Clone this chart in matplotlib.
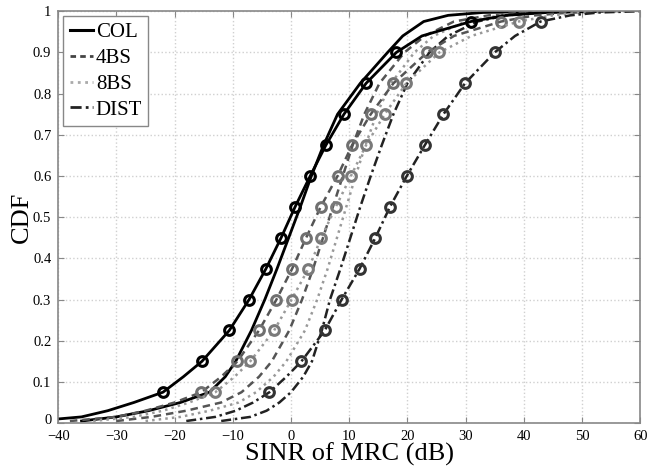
import numpy as np
import matplotlib
matplotlib.use("Agg")
import matplotlib.pyplot as plt
import matplotlib.transforms as mtransforms

plt.rcParams['font.family'] = ['Liberation Serif', 'DejaVu Serif']

# CDF levels shared by all curves; x values (dB)
levels = [0.005, 0.015, 0.03, 0.05, 0.075, 0.1125, 0.15, 0.225, 0.3, 0.375, 0.45,
          0.525, 0.6, 0.675, 0.75, 0.825, 0.9, 0.94, 0.975, 0.99, 0.997, 1.0]
mark_idx = [4, 6, 7, 8, 9, 10, 11, 12, 13, 14, 15, 16, 18]

col_mark = [-44, -36, -31.5, -27, -22, -18.5, -15.3, -10.6, -7.2, -4.3, -1.7,
            0.7, 3.3, 6.0, 9.1, 12.9, 18.1, 22.5, 30.9, 37, 44, 55]
col_plain = [-36, -30, -24.5, -19, -14, -11.3, -9.5, -6.8, -4.5, -2.4, -0.4,
             1.6, 3.5, 5.6, 8.0, 11.9, 16.6, 19.2, 22.8, 27, 33, 45]
bs4_mark = [-38, -30, -25, -20, -15.4, -12, -9.2, -5.5, -2.5, 0.2, 2.6,
            5.1, 8.0, 10.5, 13.7, 17.6, 23.4, 28, 36.1, 42, 48, 56]
bs4_plain = [-30, -24, -18, -12, -8.5, -5.5, -3.3, -0.3, 1.9, 3.8, 5.5,
             7.2, 8.9, 10.6, 12.6, 15.2, 19.5, 23, 28, 34, 40, 50]
bs8_mark = [-34, -27, -22, -17.5, -13.0, -9.7, -7.0, -2.9, 0.1, 3.0, 5.2,
            7.7, 10.3, 12.9, 16.1, 19.8, 25.5, 31, 39.1, 45, 50, 58]
bs8_plain = [-25, -19, -14, -9, -6, -3.0, -0.8, 2.4, 4.5, 6.3, 7.9,
             9.5, 11.1, 12.8, 14.7, 17.2, 21.2, 24.5, 30, 36, 42, 52]
dist_mark = [-18, -13, -9.5, -6.5, -3.7, -0.8, 1.8, 5.8, 8.7, 11.8, 14.5,
             17.0, 19.9, 23.0, 26.2, 29.9, 35.0, 38.5, 42.9, 48, 53, 60]
dist_plain = [-12, -7, -4.2, -2.0, 0.0, 2.1, 3.6, 5.3, 6.7, 8.5, 10.2,
              11.9, 13.7, 15.6, 17.6, 20.0, 23.8, 27, 32, 37, 43, 52]

fig = plt.figure(figsize=(6.62, 4.68), dpi=100)
ax = plt.axes([0.088, 0.096, 0.879, 0.880])

# unmarked curves
ax.plot(col_plain, levels, '-', color='black', lw=2.0)
ax.plot(bs4_plain, levels, '--', color='#555555', lw=1.8, dashes=(3, 2))
ax.plot(bs8_plain, levels, ':', color='#999999', lw=1.8)
ax.plot(dist_plain, levels, '-.', color='#222222', lw=1.8, dashes=(4, 1.5, 1, 1.5))

# curves with markers
mk = dict(marker='o', ms=7, mfc='none', mew=2.2, markevery=mark_idx)
ax.plot(col_mark, levels, '-', color='black', lw=2.0, mec='black', **mk)
ax.plot(bs4_mark, levels, '--', color='#555555', lw=1.8, dashes=(3, 2), mec='#707070', **mk)
ax.plot(bs8_mark, levels, ':', color='#999999', lw=1.8, mec='#7a7a7a', **mk)
ax.plot(dist_mark, levels, '-.', color='#222222', lw=1.8, dashes=(4, 1.5, 1, 1.5), mec='#333333', **mk)

h1, = ax.plot([], [], '-', color='black', lw=2.2)
h2, = ax.plot([], [], '--', color='#444444', lw=2.0, dashes=(2, 1.5))
h3, = ax.plot([], [], ':', color='#aaaaaa', lw=2.0)
h4, = ax.plot([], [], '-.', color='#222222', lw=2.0, dashes=(4, 1.5, 1, 1.5))
leg = ax.legend([h1, h2, h3, h4], ['COL', '4BS', '8BS', 'DIST'], loc='upper left',
                fontsize=15, handlelength=1.1, handletextpad=0.15, borderpad=0.3,
                labelspacing=0.3, fancybox=False, framealpha=1, borderaxespad=0.25)
leg.get_frame().set_edgecolor('#888888')
leg.get_frame().set_linewidth(1.0)

ax.set_xlim(-40, 60)
ax.set_ylim(0, 1)
ax.set_xticks(np.arange(-40, 61, 10))
ax.set_yticks(np.arange(0, 1.01, 0.1))
ax.set_yticklabels(['0', '0.1', '0.2', '0.3', '0.4', '0.5', '0.6', '0.7', '0.8', '0.9', '1'])
ax.grid(True, linestyle=':', color='#d0d0d0', lw=1.0)
ax.tick_params(direction='in', top=True, right=True, labelsize=10.5, length=4, color='#888888')
ax.tick_params(axis='x', pad=5)
ax.tick_params(axis='y', pad=5)
# lift the "0" on the y axis a few pixels so it clears the "-40" below it
lab0 = ax.yaxis.get_major_ticks()[0].label1
lab0.set_transform(lab0.get_transform() + mtransforms.ScaledTranslation(0, 3 / 72, fig.dpi_scale_trans))
for s in ax.spines.values():
    s.set_color('#888888')
    s.set_linewidth(1.2)
ax.set_xlabel('SINR of MRC (dB)', fontsize=19, labelpad=0)
ax.set_ylabel('CDF', fontsize=19, labelpad=0)

plt.savefig('out.png', dpi=100)
